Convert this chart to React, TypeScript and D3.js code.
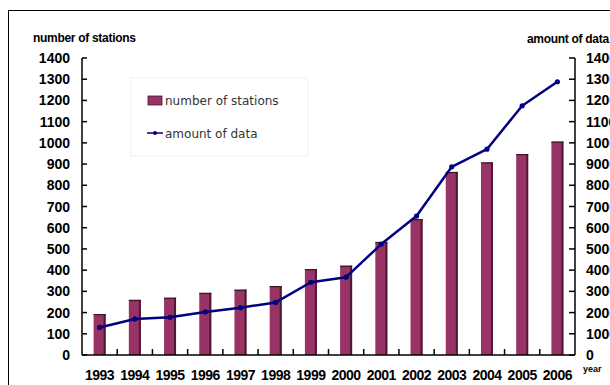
import React from "react";
import * as d3 from "d3";

const years = ["1993","1994","1995","1996","1997","1998","1999","2000","2001","2002","2003","2004","2005","2006"];
const stations = [193, 260, 270, 293, 308, 325, 405, 421, 533, 641, 863, 908, 947, 1006];
const dataAmount = [1300, 1700, 1780, 2030, 2230, 2480, 3430, 3670, 5230, 6550, 8870, 9700, 11750, 12880];
const leftTicks = [0,100,200,300,400,500,600,700,800,900,1000,1100,1200,1300,1400];
const rightTicks = [0,1000,2000,3000,4000,5000,6000,7000,8000,9000,10000,11000,12000,13000,14000];

const W = 610, H = 385;
const L = 82, R = 575, T = 58, B = 355;
const BAR = "#993366";
const LINE = "#000080";
const boldFont = "Arial, 'Liberation Sans', sans-serif";

export default function App() {
  const x = d3.scaleBand<string>().domain(years).range([L, R]).padding(0);
  const yL = d3.scaleLinear().domain([0, 1400]).range([B, T]);
  const yR = d3.scaleLinear().domain([0, 14000]).range([B, T]);
  const bw = 12;
  const cx = (y: string) => (x(y) as number) + x.bandwidth() / 2;
  const line = d3.line<number>().x((_, i) => cx(years[i])).y(d => yR(d));

  return (
    <svg width={W} height={H} style={{ position: "absolute", left: 0, top: 0, background: "#fff" }}>
      <rect x={8.5} y={10.5} width={700} height={500} fill="#fff" stroke="#000" strokeWidth={1} />
      {/* legend */}
      <rect x={131} y={78} width={177} height={78} fill="#fff" stroke="#f0f0f0" />
      <rect x={148} y={96} width={14} height={9} fill={BAR} stroke="#4a1530" strokeWidth={0.8} />
      <text x={165} y={105} fontFamily="'DejaVu Sans', Verdana, sans-serif" fontSize={12} fill="#333">number of stations</text>
      <line x1={147} x2={163} y1={133} y2={133} stroke={LINE} strokeWidth={1.5} />
      <circle cx={155} cy={133} r={2} fill={LINE} />
      <text x={165} y={138} fontFamily="'DejaVu Sans', Verdana, sans-serif" fontSize={12} fill="#333">amount of data</text>

      {/* bars */}
      {years.map((yr, i) => (
        <g key={yr}>
          <rect x={cx(yr) - bw / 2} y={yL(stations[i])} width={bw} height={B - yL(stations[i])} fill={BAR} />
          <rect x={cx(yr) + bw / 2 - 2} y={yL(stations[i])} width={2} height={B - yL(stations[i])} fill="#4d1a33" />
          <rect x={cx(yr) - bw / 2} y={yL(stations[i])} width={bw} height={1.2} fill="#3d1428" />
        </g>
      ))}

      {/* line */}
      <path d={line(dataAmount) || ""} fill="none" stroke={LINE} strokeWidth={2.5} strokeLinejoin="round" />
      {dataAmount.map((v, i) => (
        <circle key={i} cx={cx(years[i])} cy={yR(v)} r={2.6} fill={LINE} />
      ))}

      {/* axes */}
      <line x1={L} x2={L} y1={T} y2={B} stroke="#000" strokeWidth={1.5} />
      <line x1={R} x2={R} y1={T} y2={B} stroke="#000" strokeWidth={1.5} />
      <line x1={L} x2={R} y1={B} y2={B} stroke="#000" strokeWidth={1.5} />
      {leftTicks.map(t => (
        <g key={"l" + t}>
          <line x1={L} x2={L + 5} y1={yL(t)} y2={yL(t)} stroke="#000" strokeWidth={1.5} />
          <text x={70} y={yL(t) + 5} textAnchor="end" fontFamily={boldFont} fontWeight="bold" fontSize={14} fill="#000">{t}</text>
        </g>
      ))}
      {rightTicks.map(t => (
        <g key={"r" + t}>
          <line x1={R - 6} x2={R} y1={yR(t)} y2={yR(t)} stroke="#000" strokeWidth={1.5} />
          <text x={586} y={yR(t) + 5} textAnchor="start" fontFamily={boldFont} fontWeight="bold" fontSize={14} fill="#000">{t}</text>
        </g>
      ))}
      {years.map((yr, i) => (
        <g key={"x" + yr}>
          {i > 0 && <line x1={x(yr) as number} x2={x(yr) as number} y1={B} y2={B - 6} stroke="#000" strokeWidth={1.5} />}
          <text x={cx(yr)} y={380} textAnchor="middle" fontFamily={boldFont} fontWeight="bold" fontSize={14} letterSpacing={-0.5} fill="#000">{yr}</text>
        </g>
      ))}
      <text x={33} y={42} fontFamily={boldFont} fontWeight="bold" fontSize={12} letterSpacing={-0.3} fill="#000">number of stations</text>
      <text x={527} y={43} fontFamily={boldFont} fontWeight="bold" fontSize={12} letterSpacing={-0.3} fill="#000">amount of data</text>
      <text x={583} y={372} fontFamily={boldFont} fontWeight="bold" fontSize={9} fill="#000">year</text>
    </svg>
  );
}
